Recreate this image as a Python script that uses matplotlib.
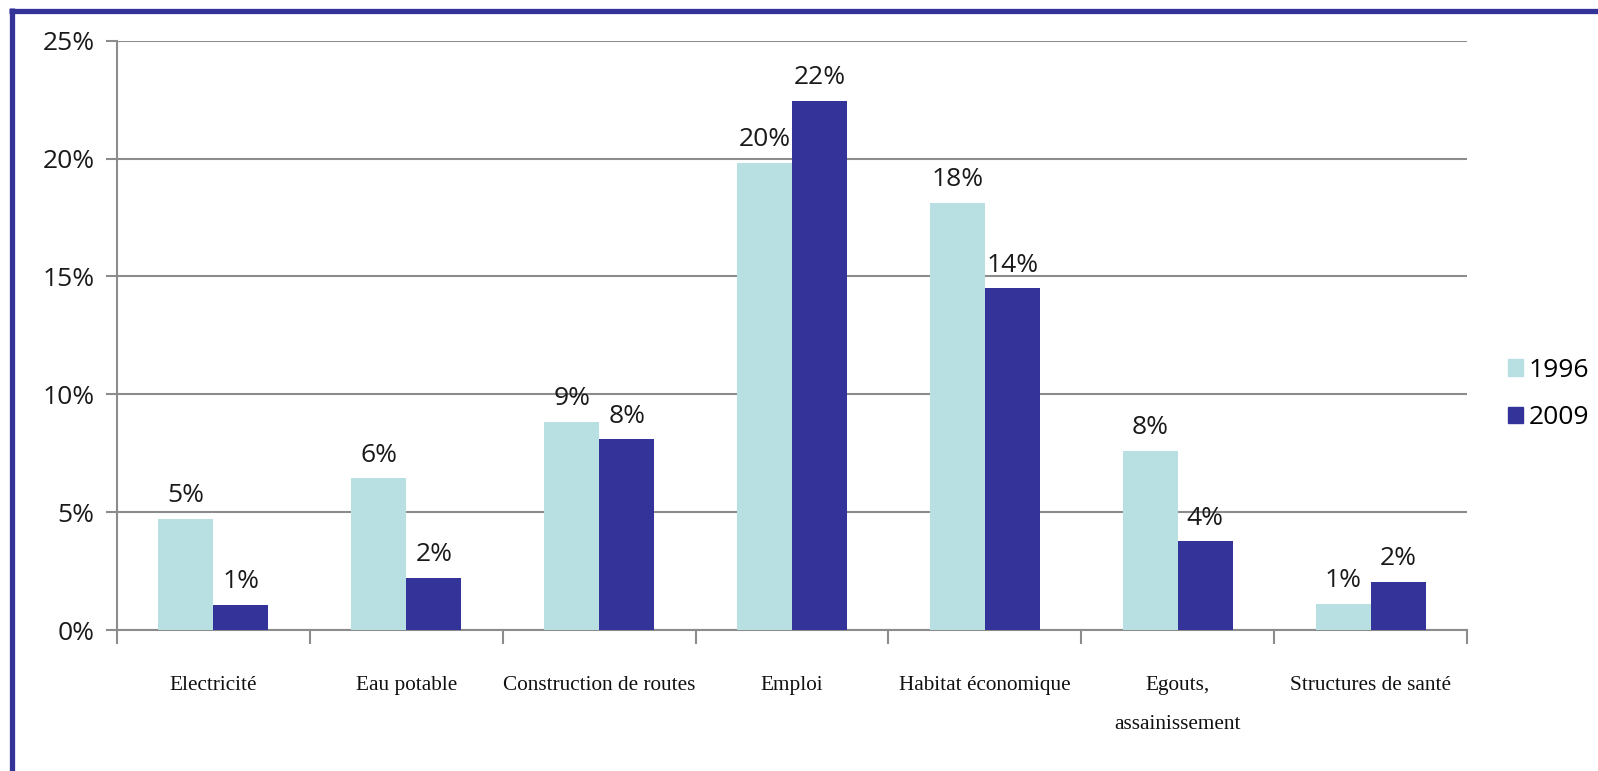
import matplotlib
matplotlib.use("Agg")
import matplotlib.pyplot as plt
from matplotlib.lines import Line2D
from matplotlib.patches import Patch
import numpy as np

categories = ["Electricité", "Eau potable", "Construction de routes", "Emploi",
              "Habitat économique", "Egouts,\nassainissement", "Structures de santé"]
series_names = ["1996", "2009"]
values_1996 = [4.71, 6.44, 8.82, 19.81, 18.12, 7.61, 1.12]
values_2009 = [1.08, 2.21, 8.09, 22.45, 14.49, 3.76, 2.03]
y_ticks = [0, 5, 10, 15, 20, 25]

c_light = "#B8DFE2"
c_dark = "#343399"
grid_c = "#8C8C8C"
num_font = "Open Sans"
cat_font = "Liberation Serif"
num_size = 19

W, H = 1598, 771
fig = plt.figure(figsize=(W / 100, H / 100), dpi=100)
ax = fig.add_axes([117 / W, 1 - 630 / H, (1467 - 117) / W, (630 - 40.8) / H])

n = len(categories)
x = np.arange(n)
bw = 0.285
b1 = ax.bar(x - bw / 2, values_1996, bw, color=c_light, zorder=3, label=series_names[0])
b2 = ax.bar(x + bw / 2, values_2009, bw, color=c_dark, zorder=3, label=series_names[1])

for bars, vals in ((b1, values_1996), (b2, values_2009)):
    for rect, v in zip(bars, vals):
        ax.annotate(f"{v:.0f}%", (rect.get_x() + rect.get_width() / 2, v),
                    xytext=(0, 12), textcoords="offset points",
                    ha="center", va="baseline", fontsize=num_size, family=num_font,
                    color="#1a1a1a")

ax.set_xlim(-0.5, n - 0.5)
ax.set_ylim(0, 25)
ax.set_yticks(y_ticks)
ax.set_yticklabels([f"{t}%" for t in y_ticks], family=num_font, fontsize=num_size, color="#1a1a1a")
ax.tick_params(axis="y", length=8, width=1.5, color=grid_c, pad=8)
ax.yaxis.grid(True, color=grid_c, linewidth=1.5, zorder=0)

ax.set_xticks(np.arange(n + 1) - 0.5)
ax.set_xticklabels([])
ax.set_xticks(x, minor=True)
ax.set_xticklabels(categories, minor=True, family=cat_font, fontsize=15.3,
                   linespacing=2.45, color="#111111")
ax.tick_params(axis="x", which="major", length=10, width=1.5, color=grid_c)
ax.tick_params(axis="x", which="minor", length=0, pad=33)

for s in ("top", "right"):
    ax.spines[s].set_visible(False)
for s in ("left", "bottom"):
    ax.spines[s].set_color(grid_c)
    ax.spines[s].set_linewidth(1.5)

handles = [Patch(color=c_light), Patch(color=c_dark)]
fig.legend(handles, series_names, loc="center left",
           bbox_to_anchor=(1484 / W, 1 - 394 / H), frameon=False,
           prop={"family": num_font, "size": num_size}, handlelength=0.58,
           handleheight=0.58, handletextpad=0.2, labelspacing=0.85)

# blue frame
fig.add_artist(Line2D([9 / W, 1.0], [1 - 10.5 / H, 1 - 10.5 / H], color=c_dark,
                      linewidth=3.8, solid_capstyle="butt", transform=fig.transFigure))
fig.add_artist(Line2D([12 / W, 12 / W], [1 - 8 / H, 0], color=c_dark,
                      linewidth=3.8, solid_capstyle="butt", transform=fig.transFigure))

fig.savefig("out.png", dpi=100, facecolor="white")
